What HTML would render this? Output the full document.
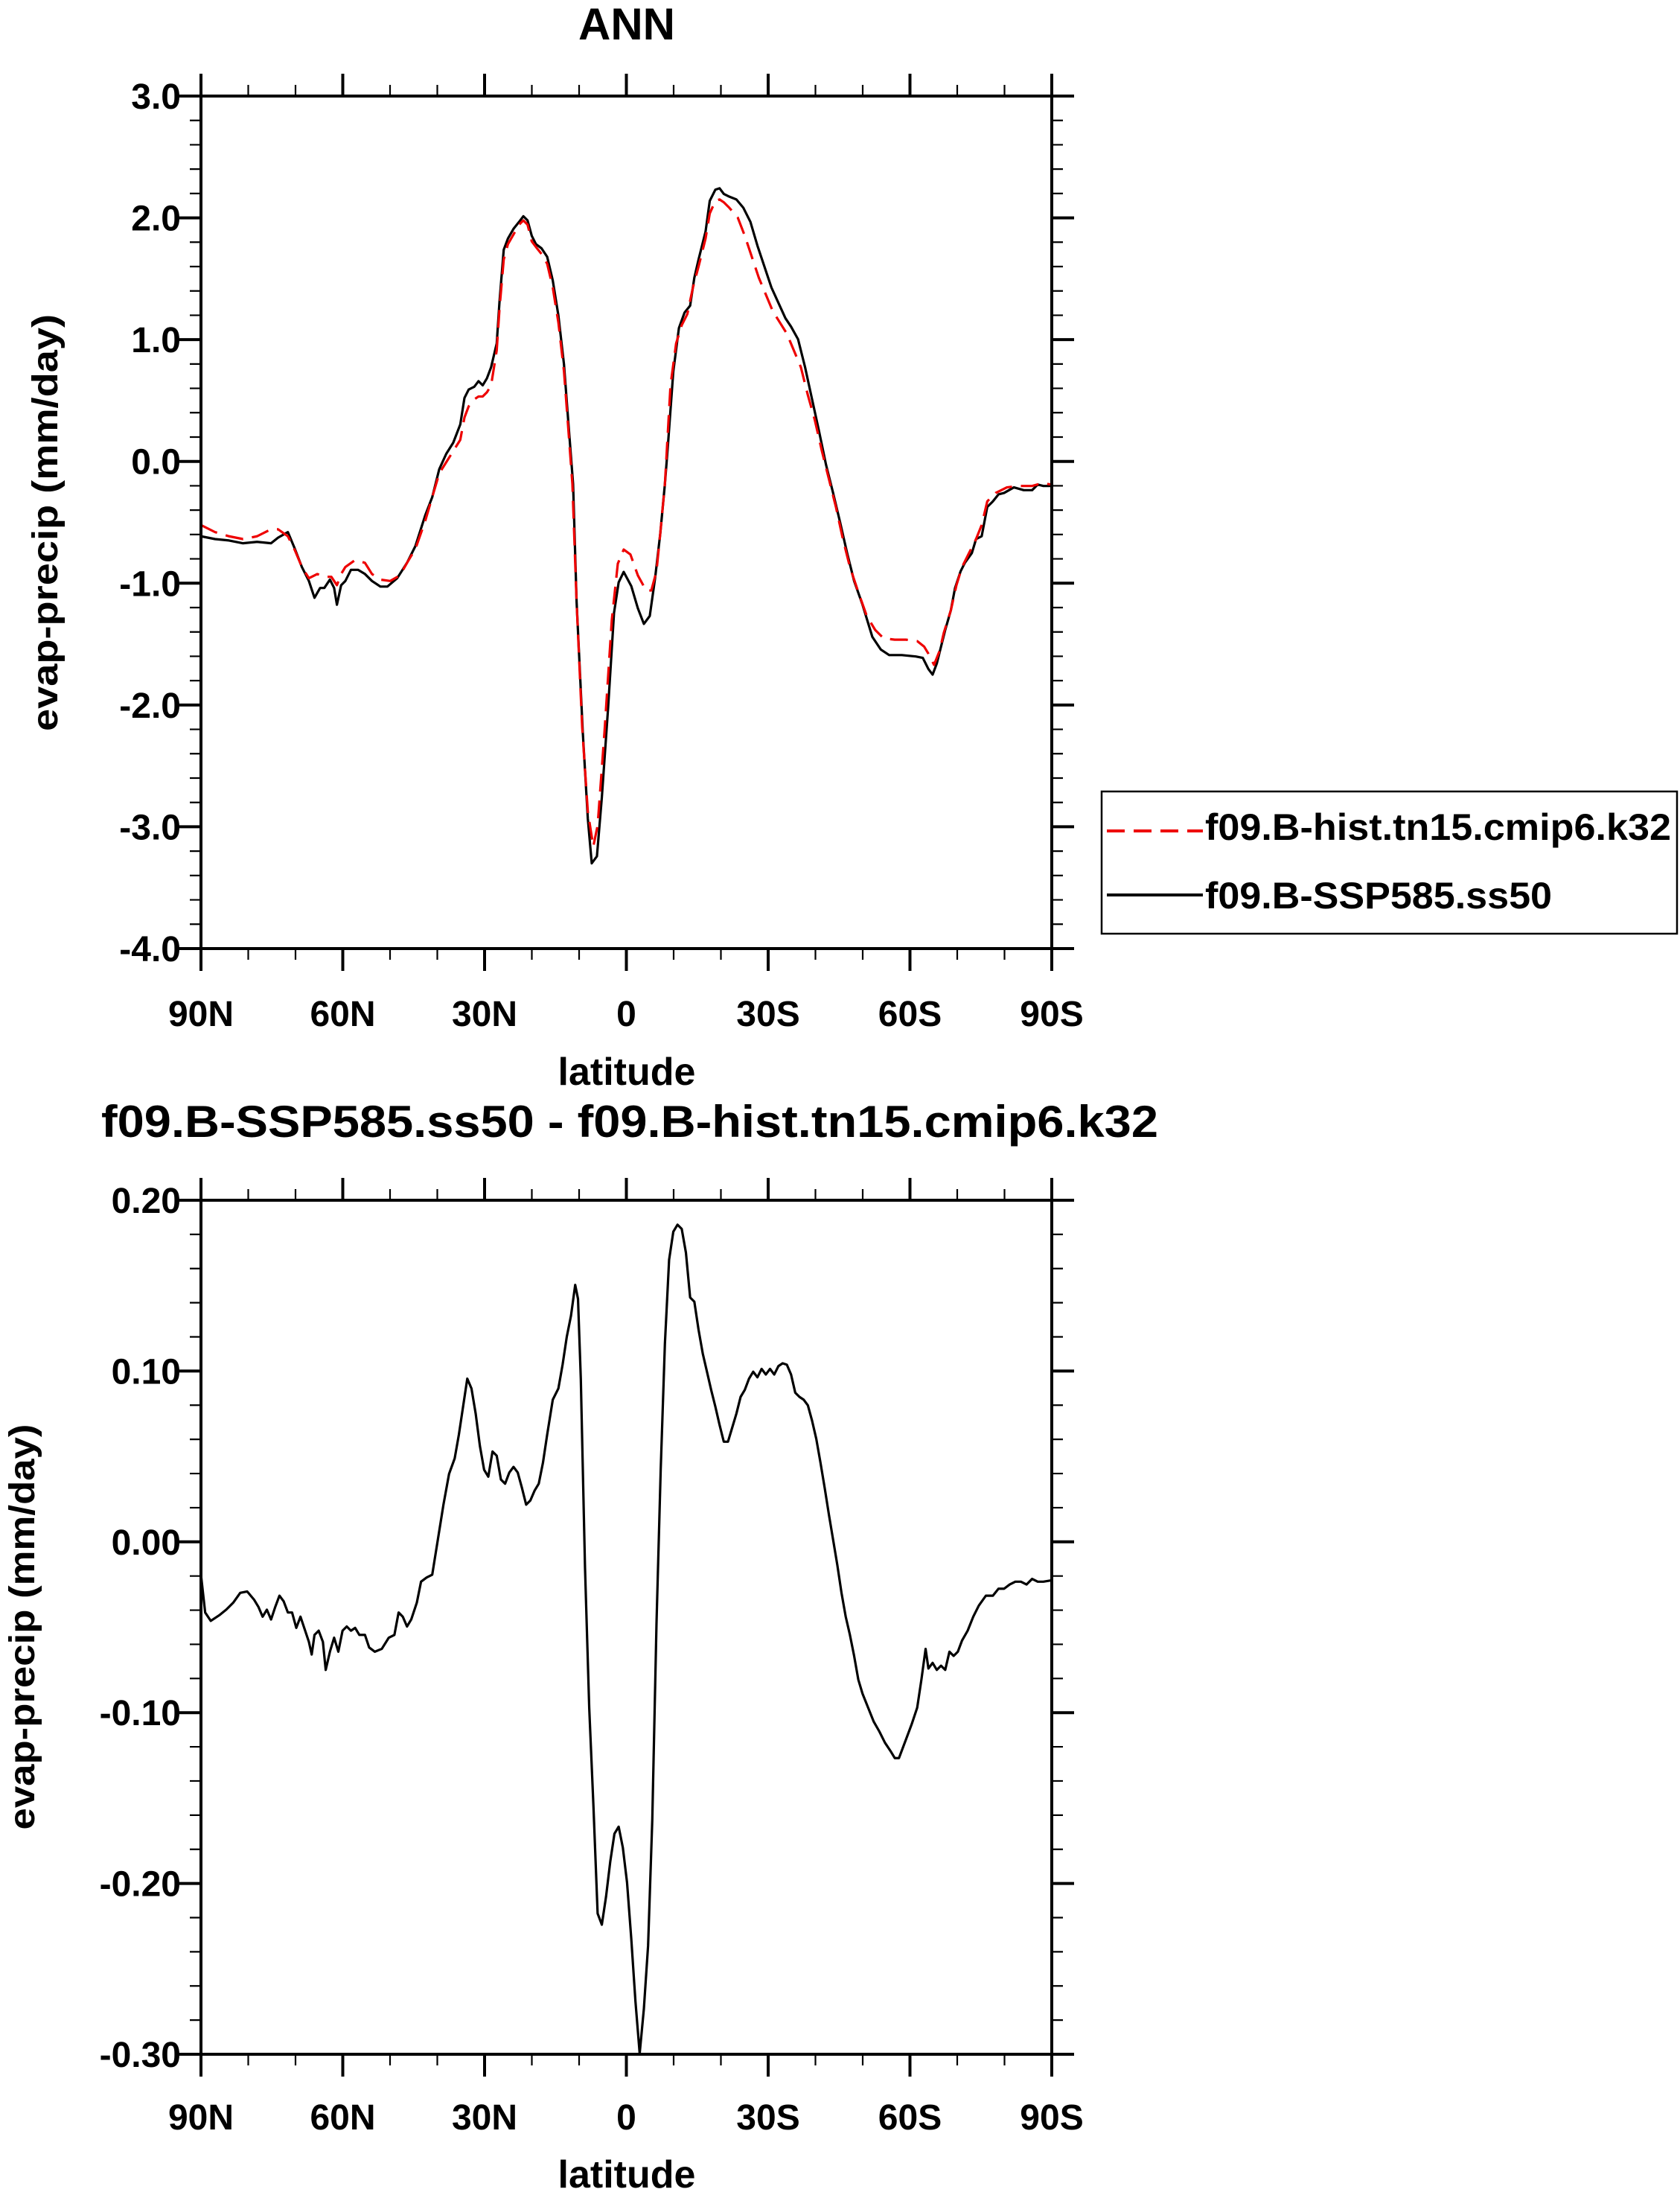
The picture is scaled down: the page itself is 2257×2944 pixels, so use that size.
<!DOCTYPE html>
<html><head><meta charset="utf-8"><style>
html,body{margin:0;padding:0;background:#fff}
svg{display:block}
text{font-family:"Liberation Sans",sans-serif;font-weight:bold;fill:#000}
</style></head><body>
<svg id="s" width="2257" height="2944" viewBox="0 0 2257 2944" xmlns="http://www.w3.org/2000/svg">
<rect width="2257" height="2944" fill="#fff"/>
<g id="ticks" stroke="#000" fill="none"></g>
<g id="labels" font-size="48"></g>

<text x="842" y="53" font-size="60" text-anchor="middle">ANN</text>
<text x="846" y="1527" font-size="60" text-anchor="middle" textLength="1420" lengthAdjust="spacingAndGlyphs">f09.B-SSP585.ss50 - f09.B-hist.tn15.cmip6.k32</text>
<text x="842" y="1457" font-size="52" text-anchor="middle">latitude</text>
<text x="842" y="2938" font-size="52" text-anchor="middle">latitude</text>
<text transform="translate(77,702) rotate(-90)" font-size="48" text-anchor="middle" textLength="560" lengthAdjust="spacingAndGlyphs">evap-precip (mm/day)</text>
<text transform="translate(46,2185) rotate(-90)" font-size="48" text-anchor="middle" textLength="545" lengthAdjust="spacingAndGlyphs">evap-precip (mm/day)</text>

<rect x="1480" y="1063" width="773" height="191" fill="none" stroke="#000" stroke-width="2.5"/>
<line x1="1487" y1="1116" x2="1616" y2="1116" stroke="#e00" stroke-width="4" stroke-dasharray="24 12"/>
<text x="1619" y="1128" font-size="50" textLength="626" lengthAdjust="spacingAndGlyphs">f09.B-hist.tn15.cmip6.k32</text>
<line x1="1487" y1="1202" x2="1616" y2="1202" stroke="#000" stroke-width="4"/>
<text x="1619" y="1220" font-size="50" textLength="466" lengthAdjust="spacingAndGlyphs">f09.B-SSP585.ss50</text>

<g transform="matrix(1.883,0,0,1.877,-3.04,1.36)" fill="none" stroke-linejoin="round">
<polyline vector-effect="non-scaling-stroke" stroke="#000" stroke-width="3.2" points="145,383 155,385 165,386 175,388 185,387 195,388 200,384 207,380 212,392 217,405 222,415 226,427 230,420 233,420 237,414 240,420 242,432 245,418 248,415 252,407 257,407 262,410 267,415 273,419 278,419 285,413 292,402 298,390 305,368 310,355 315,335 320,324 325,316 330,303 333,284 336,278 340,276 343,272 346,275 349,270 352,262 356,245 358,215 361,178 364,170 368,163 372,158 375,154 378,157 381,168 384,174 388,177 392,183 396,200 400,225 404,260 407,300 410.5,345.6 413,430 417.4,523 421,585 423.8,617 427.5,612 431,570 435.5,505.4 439.7,437.8 443,416 446.6,408.5 452,418.6 456.7,434.5 461,445.7 465.2,440 469,413 472.7,381 476,345.6 478,320 482,265 486,234 490,223 494,218 497,198 500,185 505,165 508,143 512,135 515,134 518,138 522,140 527,142 532,148 537,158 542,175 547,190 552,205 557,216 562,227 566,233 571,242 576,262 581,285 586,308 591,332 596,352 601,373 606,395 611,415 617,432 624,455 630,464 636,468 645,468 655,469 660,470 664,478 667,482 670,474 673,462 676,450 680,436 683,420 687,408 690,402 695,395 698,385 702,383 706,362 710,358 714,353 718,352 725,348 732,350 738,350 742,346 746,347 752,347"/>
<polyline vector-effect="non-scaling-stroke" stroke="#e00" stroke-width="3.2" stroke-dasharray="24 12" points="145,375 155,380 165,383 175,385 185,383 195,378 200,378 207,383 212,393 217,405 222,413 228,410 233,412 238,412 242,418 245,410 248,405 255,400 262,402 267,410 273,414 280,415 287,411 292,402 298,392 305,372 310,355 315,338 320,330 325,322 330,314 333,298 336,290 340,285 343,283 346,283 349,280 352,275 356,250 358,220 361,185 364,174 368,167 372,160 375,157 378,160 381,172 384,176 388,181 392,188 396,205 400,230 404,265 407,305 410,345.6 413,430 417,520 421,580 424.9,605 428,590 432.9,523 438.1,443 442.4,402.6 446.6,392.5 451.4,396 456.7,411 462.6,421.8 466.3,421.8 470,408 472.7,381 476,345.6 480,275 484,245 488,232 492,224 496,205 500,190 505,170 508,152 512,143 515,142 518,144 522,148 528,155 533,168 538,183 543,198 548,210 553,222 558,230 563,238 568,250 573,262 578,282 583,300 588,322 593,342 598,362 603,385 608,405 614,423 620,440 626,450 632,456 640,457 648,457 656,458 661,462 664,467 668,475 672,465 675,452 680,436 684,418 688,405 693,395 698,385 702,375 706,358 712,352 720,348 728,347 738,347 745,345 752,346"/>
</g>
<g transform="matrix(1.883,0,0,1.8803,-3.04,-0.42)" fill="none" stroke-linejoin="round">
<polyline vector-effect="non-scaling-stroke" stroke="#000" stroke-width="3.2" points="145,1125 148,1152 152,1158 158,1154 163,1150 168,1145 173,1138 178,1137 183,1143 186,1148 189,1155 192,1150 195,1157 198,1148 201,1140 204,1144 207,1152 210,1152 213,1163 216,1155 219,1164 222,1173 224,1182 226,1168 229,1165 232,1173 234,1193 237,1180 240,1170 243,1180 246,1165 249,1162 252,1165 255,1163 258,1168 262,1168 265,1177 269,1180 274,1178 279,1170 283,1168 286,1152 289,1155 292,1162 295,1157 299,1145 302,1130 306,1127 310,1125 314,1100 318,1075 322,1053 326,1042 329,1025 332,1005 335,985 338,992 341,1010 344,1033 347,1050 350,1055 353,1037 356,1040 359,1057 362,1060 365,1052 368,1048 371,1052 374,1063 377,1075 380,1072 383,1065 386,1060 389,1045 392,1025 396,1000 400,992 403,975 406,955 409,940 412,918 414,928 416,985 419,1120 422,1220 425,1290 428,1367 431,1375 434,1355 437,1330 440,1310 443,1305 446,1320 449,1345 452,1385 455,1430 458,1467 461,1435 464,1390 467,1300 470,1160 473,1050 476,960 479,900 482,880 485,875 488,878 491,895 494,927 497,930 500,950 503,967 506,980 509,993 512,1005 515,1018 518,1030 521,1030 524,1020 527,1010 530,998 533,993 536,985 539,980 542,984 545,978 548,982 551,978 554,982 557,976 560,974 563,975 566,982 569,995 572,998 575,1000 578,1004 581,1015 584,1028 587,1045 590,1063 593,1082 596,1100 599,1118 602,1138 605,1155 608,1168 611,1183 614,1200 617,1210 621,1220 625,1230 629,1237 633,1245 637,1251 640,1256 643,1256 646,1248 649,1240 652,1232 656,1220 659,1200 662,1178 664,1192 667,1188 670,1193 673,1190 676,1193 679,1180 682,1183 685,1180 688,1172 692,1165 696,1155 700,1147 705,1140 710,1140 714,1135 718,1135 722,1132 726,1130 730,1130 734,1132 738,1128 742,1130 746,1130 752,1129"/>
</g>

<rect x="270" y="129" width="1143" height="1145" fill="none" stroke="#000" stroke-width="4"/>
<rect x="270" y="1612" width="1143" height="1147" fill="none" stroke="#000" stroke-width="4"/>
</svg>
<script>
(function(){
var NS="http://www.w3.org/2000/svg";
var T=document.getElementById("ticks"),L=document.getElementById("labels");
var d="",D="";
var X0=270,X1=1413;
function xt(y0,y1){
  for(var k=0;k<=18;k++){
    var x=X0+(X1-X0)*k/18;
    var maj=(k%3==0), len=maj?30:15;
    var s=" M"+x+","+y0+" V"+(y0-len)+" M"+x+","+y1+" V"+(y1+len);
    if(maj)D+=s; else d+=s;
  }
}
function yt(y0,y1,n,sub){
  var N=n*sub;
  for(var k=0;k<=N;k++){
    var y=y0+(y1-y0)*k/N, maj=(k%sub==0), len=maj?30:15;
    var s=" M"+X0+","+y+" H"+(X0-len)+" M"+X1+","+y+" H"+(X1+len);
    if(maj)D+=s; else d+=s;
  }
}
xt(129,1274);xt(1612,2759);
yt(129,1274,7,5);yt(1612,2759,5,5);
var p1=document.createElementNS(NS,"path");p1.setAttribute("d",d);p1.setAttribute("stroke-width","2.2");T.appendChild(p1);
var p2=document.createElementNS(NS,"path");p2.setAttribute("d",D);p2.setAttribute("stroke-width","4");T.appendChild(p2);
function tx(x,y,s,anc){var t=document.createElementNS(NS,"text");t.setAttribute("x",x);t.setAttribute("y",y);t.setAttribute("text-anchor",anc);t.textContent=s;L.appendChild(t);}
var xl=["90N","60N","30N","0","30S","60S","90S"];
for(var i=0;i<7;i++){var x=X0+(X1-X0)*i/6;tx(x,1378,xl[i],"middle");tx(x,2860,xl[i],"middle");}
var yl=["3.0","2.0","1.0","0.0","-1.0","-2.0","-3.0","-4.0"];
for(var i=0;i<8;i++){tx(243,129+(1145)*i/7+17,yl[i],"end");}
var yl2=["0.20","0.10","0.00","-0.10","-0.20","-0.30"];
for(var i=0;i<6;i++){tx(243,1612+1147*i/5+17,yl2[i],"end");}
})();
</script>
</body></html>
